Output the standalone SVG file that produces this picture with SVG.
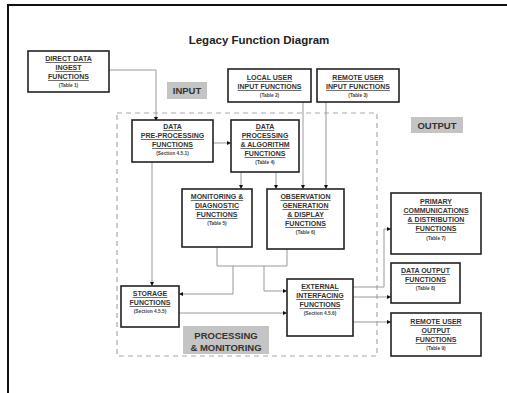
<svg xmlns="http://www.w3.org/2000/svg" width="507" height="393" viewBox="0 0 507 393">
<defs>
<marker id="ah" viewBox="0 0 6 6" refX="6" refY="3" markerWidth="4" markerHeight="4" orient="auto" markerUnits="userSpaceOnUse">
<path d="M0,0 L6,3 L0,6 Z" fill="#111"/>
</marker>
<style>
.box{fill:#fff;stroke:#222;stroke-width:1.6}
.t{font-family:"Liberation Sans",Arial,sans-serif;font-weight:bold;font-size:7px;fill:#333;text-anchor:middle;text-decoration:underline}
.s{font-family:"Liberation Sans",Arial,sans-serif;font-weight:bold;font-size:4.8px;fill:#444;text-anchor:middle}
.lbl{fill:#c4c4c4}
.lt{font-family:"Liberation Sans",Arial,sans-serif;font-weight:bold;font-size:9.5px;fill:#333;text-anchor:middle}
.c{fill:none;stroke:#999;stroke-width:1}
.ca{fill:none;stroke:#999;stroke-width:1;marker-end:url(#ah)}
</style>
</defs>
<rect width="507" height="393" fill="#fff"/>
<rect x="8" y="5" width="520" height="400" fill="none" stroke="#111" stroke-width="2"/>
<text x="259" y="44" font-family="Liberation Sans,Arial,sans-serif" font-weight="bold" font-size="11.5" fill="#222" text-anchor="middle">Legacy Function Diagram</text>

<rect x="117" y="113" width="260" height="243" fill="none" stroke="#aaa" stroke-width="1.2" stroke-dasharray="5,4"/>

<g id="label-input"><rect class="lbl" x="167" y="82" width="40" height="17"/><text class="lt" x="187" y="94" font-size="9">INPUT</text></g>
<g id="label-output"><rect class="lbl" x="411" y="117" width="52" height="16"/><text class="lt" x="437" y="129" font-size="9">OUTPUT</text></g>
<g id="label-processing"><rect class="lbl" x="183" y="326" width="86" height="28"/><text class="lt" x="226" y="339">PROCESSING</text><text class="lt" x="226" y="351">&amp; MONITORING</text></g>

<g id="connectors">
<polyline class="ca" points="109,70 156,70 156,121"/>
<polyline class="ca" points="213,143 231,143"/>
<polyline class="ca" points="241,172 241,189"/>
<polyline class="ca" points="276,172 276,189"/>
<polyline class="ca" points="303,102 303,189"/>
<polyline class="ca" points="326,102 326,189"/>
<polyline class="ca" points="152,162 152,286"/>
<polyline class="c" points="217,247 217,266 287,266 287,249"/>
<polyline class="ca" points="233,266 233,294 179,294"/>
<polyline class="ca" points="264,266 264,291 287,291"/>
<polyline class="ca" points="179,313 287,313"/>
<polyline class="ca" points="353,287 384,287 384,229 391,229"/>
<polyline class="ca" points="353,297 391,297"/>
<polyline class="ca" points="353,322 391,322"/>
</g>

<g id="direct-data">
<rect class="box" x="28" y="51" width="81" height="41"/>
<text class="t" x="68.5" y="61">DIRECT DATA</text>
<text class="t" x="68.5" y="70">INGEST</text>
<text class="t" x="68.5" y="79">FUNCTIONS</text>
<text class="s" x="68.5" y="87">(Table 1)</text>
</g>
<g id="local-user-input">
<rect class="box" x="228" y="69" width="83" height="33"/>
<text class="t" x="269.5" y="80">LOCAL USER</text>
<text class="t" x="269.5" y="89">INPUT FUNCTIONS</text>
<text class="s" x="269.5" y="97">(Table 2)</text>
</g>
<g id="remote-user-input">
<rect class="box" x="317" y="69" width="82" height="33"/>
<text class="t" x="358" y="80">REMOTE USER</text>
<text class="t" x="358" y="89">INPUT FUNCTIONS</text>
<text class="s" x="358" y="97">(Table 3)</text>
</g>
<g id="pre-processing">
<rect class="box" x="132" y="120" width="81" height="42"/>
<text class="t" x="172.5" y="129">DATA</text>
<text class="t" x="172.5" y="138">PRE-PROCESSING</text>
<text class="t" x="172.5" y="147">FUNCTIONS</text>
<text class="s" x="172.5" y="155">(Section 4.5.1)</text>
</g>
<g id="data-processing">
<rect class="box" x="231" y="120" width="68" height="52"/>
<text class="t" x="265" y="129">DATA</text>
<text class="t" x="265" y="138">PROCESSING</text>
<text class="t" x="265" y="147">&amp; ALGORITHM</text>
<text class="t" x="265" y="156">FUNCTIONS</text>
<text class="s" x="265" y="164">(Table 4)</text>
</g>
<g id="monitoring">
<rect class="box" x="182" y="189" width="70" height="58"/>
<text class="t" x="217" y="199">MONITORING &amp;</text>
<text class="t" x="217" y="208">DIAGNOSTIC</text>
<text class="t" x="217" y="217">FUNCTIONS</text>
<text class="s" x="217" y="225">(Table 5)</text>
</g>
<g id="observation">
<rect class="box" x="267" y="189" width="77" height="60"/>
<text class="t" x="305.5" y="199">OBSERVATION</text>
<text class="t" x="305.5" y="208">GENERATION</text>
<text class="t" x="305.5" y="217">&amp; DISPLAY</text>
<text class="t" x="305.5" y="226">FUNCTIONS</text>
<text class="s" x="305.5" y="234">(Table 6)</text>
</g>
<g id="storage">
<rect class="box" x="121" y="286" width="58" height="41"/>
<text class="t" x="150" y="296">STORAGE</text>
<text class="t" x="150" y="305">FUNCTIONS</text>
<text class="s" x="150" y="313">(Section 4.5.5)</text>
</g>
<g id="external">
<rect class="box" x="287" y="279" width="66" height="57"/>
<text class="t" x="320" y="289">EXTERNAL</text>
<text class="t" x="320" y="298">INTERFACING</text>
<text class="t" x="320" y="307">FUNCTIONS</text>
<text class="s" x="320" y="315">(Section 4.5.6)</text>
</g>
<g id="primary-comms">
<rect class="box" x="391" y="193" width="90" height="61"/>
<text class="t" x="436" y="204">PRIMARY</text>
<text class="t" x="436" y="213">COMMUNICATIONS</text>
<text class="t" x="436" y="222">&amp; DISTRIBUTION</text>
<text class="t" x="436" y="231">FUNCTIONS</text>
<text class="s" x="436" y="240">(Table 7)</text>
</g>
<g id="data-output">
<rect class="box" x="391" y="263" width="69" height="40"/>
<text class="t" x="425.5" y="273">DATA OUTPUT</text>
<text class="t" x="425.5" y="282">FUNCTIONS</text>
<text class="s" x="425.5" y="290">(Table 8)</text>
</g>
<g id="remote-user-output">
<rect class="box" x="391" y="313" width="90" height="43"/>
<text class="t" x="436" y="324">REMOTE USER</text>
<text class="t" x="436" y="333">OUTPUT</text>
<text class="t" x="436" y="342">FUNCTIONS</text>
<text class="s" x="436" y="350">(Table 9)</text>
</g>
</svg>
